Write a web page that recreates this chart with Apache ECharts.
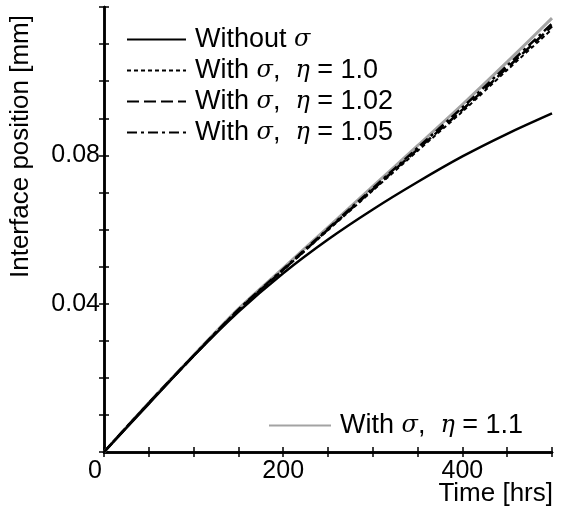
<!DOCTYPE html>
<html>
<head>
<meta charset="utf-8">
<script src="https://cdn.jsdelivr.net/npm/echarts@6/dist/echarts.min.js"></script>
<style>
  html, body { margin: 0; padding: 0; background: #fff; }
  #chart { width: 569px; height: 522px; }
</style>
</head>
<body>
<div id="chart"></div>
<script>
// time axis [hrs]
const timeHrs = [0, 50, 100, 150, 200, 250, 300, 350, 400, 450, 500]

// interface position [mm]
const withoutSigma = [0, 0.0130, 0.0259, 0.0378, 0.0482, 0.0573, 0.0654, 0.0728, 0.0797, 0.0858, 0.0913]
const eta100 = [0, 0.0132, 0.0259, 0.0382, 0.0490, 0.0598, 0.0705, 0.0812, 0.0918, 0.1030, 0.1140]
const eta102 = [0, 0.0132, 0.0259, 0.0383, 0.0491, 0.0600, 0.0708, 0.0816, 0.0923, 0.1036, 0.1148]
const eta105 = [0, 0.0132, 0.0260, 0.0384, 0.0493, 0.0602, 0.0711, 0.0820, 0.0929, 0.1042, 0.1155]
const eta110 = [0, 0.0133, 0.0261, 0.0386, 0.0496, 0.0606, 0.0716, 0.0826, 0.0937, 0.1052, 0.1170]

const xLabels = [0, 200, 400]
const yLabels = [0.04, 0.08]

const FONT = '"Liberation Sans", Arial, sans-serif'
const FS = 25
const LFS = 27

function pairs(ys) {
  return timeHrs.map((t, i) => [t, ys[i]])
}

const chart = echarts.init(document.getElementById('chart'))

const legendText = {
  fontFamily: FONT,
  fontSize: LFS,
  color: '#000',
  padding: [0, 0, 0, 4],
  rich: {
    g: { fontFamily: '"DejaVu Serif", serif', fontStyle: 'italic', fontSize: LFS - 3, color: '#000' }
  }
}
const legendFmt = name => name.replace(/([ση])/g, '{g|$1}')

const baseLine = (name, data, lineStyle) => ({
  name,
  type: 'line',
  data: pairs(data),
  showSymbol: false,
  symbol: 'none',
  smooth: 0.3,
  lineStyle,
  animation: false,
  z: name.indexOf('1.1') > -1 ? 1 : 2
})

const tickOnly = {
  axisLine: { show: true, lineStyle: { color: '#000', width: 2.5 } },
  axisTick: { show: true, inside: true, length: 5, lineStyle: { color: '#000', width: 1.5 } },
  axisLabel: { show: false },
  splitLine: { show: false }
}

const noSymbol = { color: 'rgba(0,0,0,0)', borderWidth: 0, opacity: 0 }

chart.setOption({
  animation: false,
  grid: { left: 104, right: 17, top: 7, bottom: 70, containLabel: false },
  legend: [{
    orient: 'vertical',
    left: 121,
    top: 21,
    itemWidth: 59,
    itemHeight: 14,
    itemGap: 4,
    itemStyle: noSymbol,
    data: ['Without σ', 'With σ,  η = 1.0', 'With σ,  η = 1.02', 'With σ,  η = 1.05'],
    formatter: legendFmt,
    textStyle: legendText
  }, {
    orient: 'vertical',
    left: 263,
    top: 407,
    itemWidth: 62,
    itemHeight: 14,
    itemStyle: noSymbol,
    data: ['With σ,  η = 1.1'],
    formatter: legendFmt,
    textStyle: legendText
  }],
  xAxis: [{
    type: 'value',
    min: 0,
    max: 500,
    interval: 50,
    axisLine: { show: true, lineStyle: { color: '#000', width: 2.5 } },
    axisTick: { show: true, inside: true, length: 5, lineStyle: { color: '#000', width: 1.5 } },
    splitLine: { show: false },
    axisLabel: {
      margin: 7,
      fontFamily: FONT,
      fontSize: FS,
      color: '#000',
      formatter: v => {
        if (v === 0) return '{z|0}'
        return xLabels.indexOf(v) > -1 ? String(v) : ''
      },
      rich: { z: { fontFamily: FONT, fontSize: FS, color: '#000', padding: [0, 18, 0, 0] } }
    }
  }, Object.assign({ type: 'value', position: 'top', min: 0, max: 500, interval: 50 }, tickOnly)],
  yAxis: [{
    type: 'value',
    min: 0,
    max: 0.12,
    interval: 0.01,
    axisLine: { show: true, lineStyle: { color: '#000', width: 2.5 } },
    axisTick: { show: true, inside: true, length: 5, lineStyle: { color: '#000', width: 1.5 } },
    splitLine: { show: false },
    axisLabel: {
      margin: 4,
      fontFamily: FONT,
      fontSize: FS,
      color: '#000',
      formatter: v => yLabels.some(l => Math.abs(l - v) < 1e-9) ? v.toFixed(2) : ''
    }
  }, Object.assign({ type: 'value', position: 'right', min: 0, max: 0.12, interval: 0.01 }, tickOnly)],
  graphic: [{
    type: 'text',
    rotation: Math.PI / 2,
    x: 8,
    y: 278,
    style: { text: 'Interface position [mm]', font: '26px ' + FONT, fill: '#000', textVerticalAlign: 'top' }
  }, {
    type: 'text',
    right: 16,
    top: 481,
    style: { text: 'Time [hrs]', font: '26px ' + FONT, fill: '#000' }
  }],
  series: [
    baseLine('Without σ', withoutSigma, { color: '#000', width: 2.5, type: 'solid' }),
    baseLine('With σ,  η = 1.0', eta100, { color: '#000', width: 2, type: [4, 3] }),
    baseLine('With σ,  η = 1.02', eta102, { color: '#000', width: 2.5, type: [12, 5] }),
    baseLine('With σ,  η = 1.05', eta105, { color: '#000', width: 2.5, type: [10, 4, 3, 4] }),
    baseLine('With σ,  η = 1.1', eta110, { color: '#a3a3a3', width: 3, type: 'solid' })
  ]
})
</script>
</body>
</html>
